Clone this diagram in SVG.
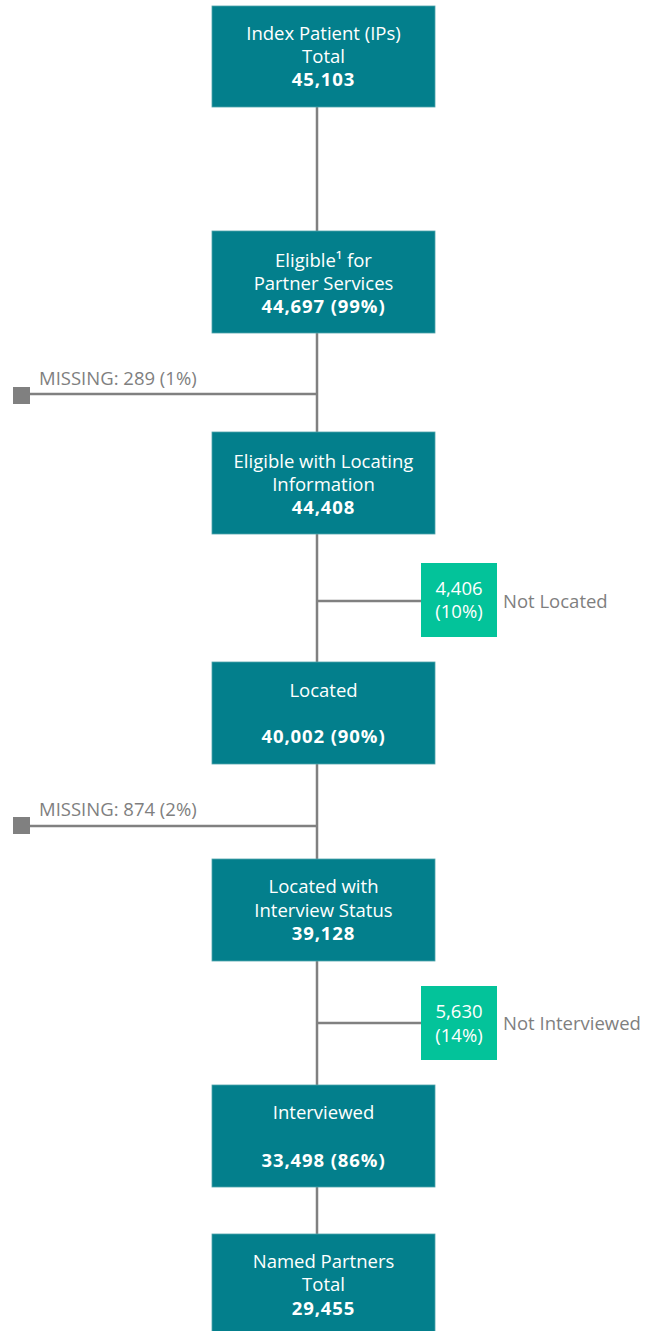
<svg xmlns="http://www.w3.org/2000/svg" width="647" height="1331" viewBox="0 0 647 1331">
<style>
.box{fill:#037f8c;stroke:#4fa3ab;stroke-width:0.8}
.gbox{fill:#03c39a}
.t{font-family:"Open Sans","Noto Sans",sans-serif;font-size:18.5px;fill:#ffffff;text-anchor:middle}
.b{font-weight:bold;letter-spacing:0.9px}
.lbl{font-family:"Open Sans","Noto Sans",sans-serif;font-size:18.5px;fill:#7f7f7f}
.ln{stroke:#808080;stroke-width:2.5;fill:none}
.sq{fill:#808080}
</style>
<rect width="647" height="1331" fill="#ffffff"/>
<g id="connectors">
<line class="ln" x1="317" y1="107" x2="317" y2="1234"/>
<line class="ln" x1="30" y1="394" x2="317" y2="394"/>
<rect class="sq" x="13" y="387" width="17" height="17"/>
<line class="ln" x1="317" y1="601" x2="421" y2="601"/>
<line class="ln" x1="30" y1="826" x2="317" y2="826"/>
<rect class="sq" x="13" y="817" width="17" height="17"/>
<line class="ln" x1="317" y1="1023" x2="421" y2="1023"/>
</g>
<g id="n1">
<rect class="box" x="212" y="6" width="223" height="101"/>
<text class="t" x="323.5" y="40">Index Patient (IPs)</text>
<text class="t" x="323.5" y="63">Total</text>
<text class="t b" x="323.5" y="86">45,103</text>
</g>
<g id="n2">
<rect class="box" x="212" y="231" width="223" height="102"/>
<text class="t" x="323.5" y="267">Eligible¹  for</text>
<text class="t" x="323.5" y="290">Partner Services</text>
<text class="t b" x="323.5" y="313">44,697 (99%)</text>
</g>
<g id="missing1">
<text class="lbl" x="39" y="385">MISSING: 289 (1%)</text>
</g>
<g id="n3">
<rect class="box" x="212" y="432" width="223" height="102"/>
<text class="t" x="323.5" y="468">Eligible with Locating</text>
<text class="t" x="323.5" y="491">Information</text>
<text class="t b" x="323.5" y="514">44,408</text>
</g>
<g id="notlocated">
<rect class="gbox" x="421" y="563" width="76" height="74"/>
<text class="t" x="459" y="595">4,406</text>
<text class="t" x="459" y="618">(10%)</text>
<text class="lbl" x="503" y="608">Not Located</text>
</g>
<g id="n4">
<rect class="box" x="212" y="662" width="223" height="102"/>
<text class="t" x="323.5" y="697">Located</text>
<text class="t b" x="323.5" y="743">40,002 (90%)</text>
</g>
<g id="missing2">
<text class="lbl" x="39" y="816">MISSING: 874 (2%)</text>
</g>
<g id="n5">
<rect class="box" x="212" y="859" width="223" height="102"/>
<text class="t" x="323.5" y="893">Located with</text>
<text class="t" x="323.5" y="917">Interview Status</text>
<text class="t b" x="323.5" y="940">39,128</text>
</g>
<g id="notinterviewed">
<rect class="gbox" x="421" y="986" width="76" height="74"/>
<text class="t" x="459" y="1018">5,630</text>
<text class="t" x="459" y="1042">(14%)</text>
<text class="lbl" x="503" y="1030">Not Interviewed</text>
</g>
<g id="n6">
<rect class="box" x="212" y="1085" width="223" height="102"/>
<text class="t" x="323.5" y="1119">Interviewed</text>
<text class="t b" x="323.5" y="1167">33,498 (86%)</text>
</g>
<g id="n7">
<rect class="box" x="212" y="1234" width="223" height="102"/>
<text class="t" x="323.5" y="1268">Named Partners</text>
<text class="t" x="323.5" y="1291">Total</text>
<text class="t b" x="323.5" y="1315">29,455</text>
</g>
</svg>
